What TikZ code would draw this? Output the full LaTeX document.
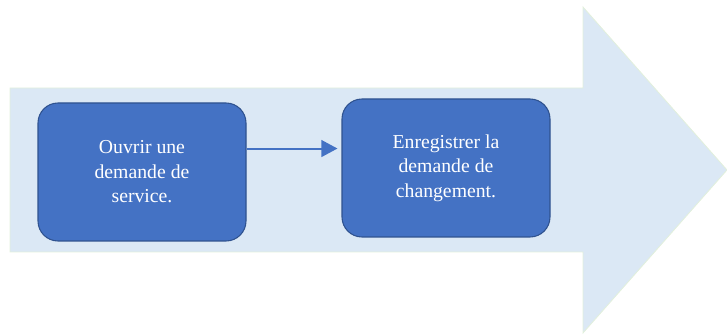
\documentclass[tikz,border=0pt]{standalone}
\usepackage{fontspec}
\setmainfont{Liberation Serif}
\usetikzlibrary{arrows.meta,positioning}

\definecolor{flechefond}{HTML}{DBE8F5}
\definecolor{flechebord}{HTML}{E2F0DC}
\definecolor{boitefond}{HTML}{4472C4}
\definecolor{boitebord}{HTML}{2F528F}

\begin{document}
\begin{tikzpicture}[
    x=0.75pt, y=0.75pt,
    etape/.style={draw=boitebord, line width=0.8pt, fill=boitefond, rounded corners=15pt,
                  minimum width=156pt, minimum height=103.5pt, text=white, align=center,
                  font=\fontsize{14.8}{18.4}\selectfont},
    lien/.style={boitefond, line width=1.5pt, -{Triangle[length=12pt,width=12.5pt]}}]
    \useasboundingbox (0, 0) rectangle (727, 335);

    % grande fleche
    \fill[flechefond, draw=flechebord, line width=0.6pt]
        (10, 83) -- (10, 247) -- (583, 247) -- (583, 328) -- (727, 165)
        -- (583, 2) -- (583, 83) -- cycle;

    % etapes
    \node[etape] (ouvrir) at (142, 163) {Ouvrir une\\demande de\\service.};
    \node[etape] (enreg) at (446, 167) {Enregistrer la\\demande de\\changement.};

    % fleche entre les etapes
    \coordinate (depart) at ([yshift=17.6pt]ouvrir.east);
    \draw[lien, shorten >=3pt] (depart) -- (depart -| enreg.west);
\end{tikzpicture}
\end{document}
